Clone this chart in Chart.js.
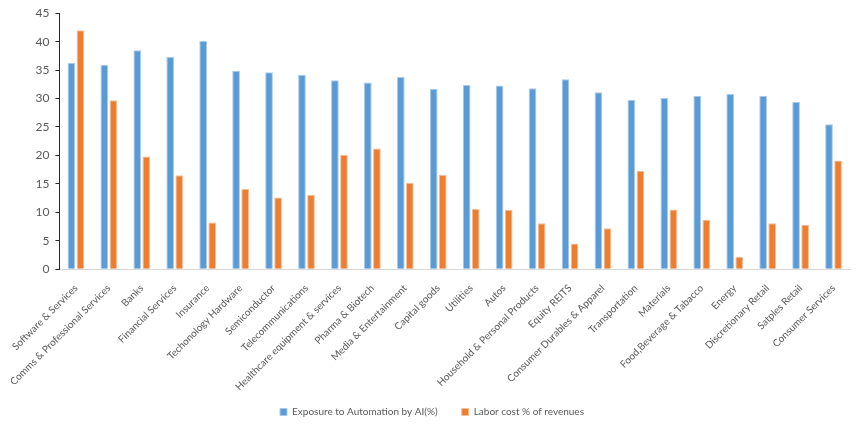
<!DOCTYPE html>
<html>
<head>
<meta charset="utf-8">
<script src="https://cdn.jsdelivr.net/npm/chart.js@4"></script>
<style>
  html, body { margin: 0; padding: 0; background: #fff; }
  #wrap { width: 864px; height: 429px; }
</style>
</head>
<body>
<div id="wrap"><canvas id="sectorChart"></canvas></div>
<script>
// sectors along the x axis
let sectors = [
    "Software & Services",
    "Comms & Professional Services",
    "Banks",
    "Financial Services",
    "Insurance",
    "Techonology Hardware",
    "Semiconductor",
    "Telecommunications",
    "Healthcare equipment & services",
    "Pharma & Biotech",
    "Media & Entertainment",
    "Capital goods",
    "Utilities",
    "Autos",
    "Household & Personal Products",
    "Equity REITS",
    "Consumer Durables & Apparel",
    "Transportation",
    "Materials",
    "Food,Beverage & Tabacco",
    "Energy",
    "Discretionary Retail",
    "Satples Retail",
    "Consumer Services",
];

let exposureAI = [36.3, 35.9, 38.5, 37.3, 40.1, 34.9, 34.6, 34.2, 33.2, 32.8, 33.8, 31.7,
    32.4, 32.3, 31.8, 33.4, 31.1, 29.8, 30.1, 30.5, 30.8, 30.5, 29.4, 25.5];
let laborCost = [42.0, 29.7, 19.8, 16.5, 8.2, 14.1, 12.6, 13.1, 20.1, 21.2, 15.2, 16.6,
    10.6, 10.4, 8.1, 4.5, 7.2, 17.3, 10.5, 8.7, 2.2, 8.1, 7.8, 19.1];

let yTicks = [0, 5, 10, 15, 20, 25, 30, 35, 40, 45];

let textGrey = "#595959";
Chart.defaults.font.family = "Lato, 'Noto Sans', sans-serif";
Chart.defaults.color = textGrey;

let sectorData = {
    labels: sectors,
    datasets: [{
        label: "Exposure to Automation by AI(%)",
        data: exposureAI,
        backgroundColor: "#5B9BD5",
        borderColor: "#A9CBEA",
        borderWidth: 1,
    }, {
        label: "Labor cost % of revenues",
        data: laborCost,
        backgroundColor: "#ED7D31",
        borderColor: "#F6BE98",
        borderWidth: 1,
    }, ],
};

// legend padding also sets the gap between items, so keep it wide
// and just lift the legend box up after layout
let legendLift = {
    id: "legendLift",
    afterLayout: function(chart) {
        chart.legend.top -= 23;
        chart.legend.bottom -= 23;
    },
};

let sectorOptions = {
    responsive: true,
    maintainAspectRatio: false,
    animation: false,
    datasets: {
        bar: {
            categoryPercentage: 0.55,
            barPercentage: 0.85,
        },
    },
    layout: {
        padding: { top: 8, right: 14, left: 14, bottom: -21 },
    },
    plugins: {
        legend: {
            position: "bottom",
            labels: {
                boxWidth: 7,
                boxHeight: 7,
                padding: 24,
                font: { size: 10 },
                color: textGrey,
            },
        },
        tooltip: { enabled: false },
    },
    scales: {
        x: {
            grid: {
                display: false,
                drawTicks: false,
            },
            border: { color: "#D9D9D9", width: 1 },
            ticks: {
                minRotation: 45,
                maxRotation: 45,
                autoSkip: false,
                padding: 13,
                font: { size: 10 },
                color: textGrey,
            },
        },
        y: {
            min: 0,
            max: 45,
            afterBuildTicks: function(axis) {
                axis.ticks = yTicks.map(function(v) { return { value: v }; });
            },
            grid: {
                display: true,
                drawOnChartArea: false,
                drawTicks: true,
                tickLength: 4,
                color: "#262626",
            },
            border: { color: "#262626", width: 1 },
            ticks: {
                padding: 6,
                font: { size: 12 },
                color: textGrey,
            },
        },
    },
};

new Chart(document.getElementById("sectorChart").getContext("2d"), {
    type: "bar",
    data: sectorData,
    options: sectorOptions,
    plugins: [legendLift],
});
</script>
</body>
</html>
